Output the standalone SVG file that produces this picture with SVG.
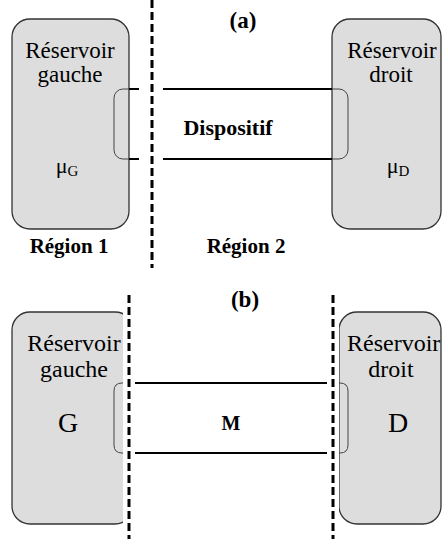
<svg xmlns="http://www.w3.org/2000/svg" width="442" height="539" viewBox="0 0 442 539">
<style>
.res{fill:#dddddd;stroke:#333;stroke-width:1.3}
.br{fill:none;stroke:#444;stroke-width:1}
.ln{stroke:#000;stroke-width:2}
.gap{fill:#fff}
.dash{stroke:#000;stroke-width:3;stroke-dasharray:8 4;fill:none}
text{font-family:"Liberation Serif","Times New Roman","DejaVu Serif",serif;fill:#000;text-anchor:middle}
text.b{font-family:"Liberation Serif","Times New Roman","DejaVu Serif",serif;font-weight:700}
</style>
<rect width="442" height="539" fill="#fff"/>
<g id="a-reservoir-gauche">
<rect class="res" x="12" y="19" width="117" height="210" rx="18"/>
<text x="70" y="58" font-size="23">Réservoir</text>
<text x="70" y="82" font-size="23">gauche</text>
<text x="67" y="173" font-size="22">μ<tspan font-size="15" dy="3">G</tspan></text>
</g>
<g id="a-reservoir-droit">
<rect class="res" x="332" y="19" width="109" height="210" rx="18"/>
<text x="392" y="58" font-size="23">Réservoir</text>
<text x="391" y="82" font-size="23">droit</text>
<text x="398" y="173" font-size="22">μ<tspan font-size="15" dy="3">D</tspan></text>
</g>
<g id="a-dispositif">
<rect class="br" x="114" y="89" width="234" height="70" rx="9"/>
<line class="ln" x1="129" y1="89" x2="332" y2="89"/>
<line class="ln" x1="129" y1="159" x2="332" y2="159"/>
<text class="b" x="228" y="135" font-size="22">Dispositif</text>
</g>
<g id="b-reservoir-gauche">
<rect class="res" x="12" y="312" width="121" height="212" rx="18"/>
<text x="74" y="351" font-size="24">Réservoir</text>
<text x="74" y="377" font-size="24">gauche</text>
<text x="68" y="432" font-size="28">G</text>
</g>
<g id="b-reservoir-droit">
<rect class="res" x="339" y="312" width="102" height="212" rx="18"/>
<text x="347" y="351" font-size="24" style="text-anchor:start">Réservoir</text>
<text x="391" y="377" font-size="24">droit</text>
<text x="398" y="432" font-size="28">D</text>
</g>
<g id="b-milieu">
<path class="br" d="M123 383 H122 Q114 383 114 391 V445 Q114 453 122 453 H123"/>
<path class="br" d="M339 383 H340 Q348 383 348 391 V445 Q348 453 340 453 H339"/>
<line class="ln" x1="135" y1="383" x2="327" y2="383"/>
<line class="ln" x1="135" y1="453" x2="327" y2="453"/>
<text class="b" x="231" y="430" font-size="20">M</text>
</g>
<g id="connectors">
<rect class="gap" x="139" y="0" width="24" height="268"/>
<rect class="gap" x="123" y="295" width="12" height="244"/>
<rect class="gap" x="327" y="295" width="12" height="244"/>
<line class="dash" x1="152" y1="0" x2="152" y2="268"/>
<line class="dash" x1="129" y1="295" x2="129" y2="539"/>
<line class="dash" x1="333" y1="295" x2="333" y2="539"/>
</g>
<g id="labels">
<text class="b" x="243" y="28" font-size="23">(a)</text>
<text class="b" x="69" y="253" font-size="21">Région 1</text>
<text class="b" x="246" y="253" font-size="21">Région 2</text>
<text class="b" x="245" y="307" font-size="23">(b)</text>
</g>
</svg>
